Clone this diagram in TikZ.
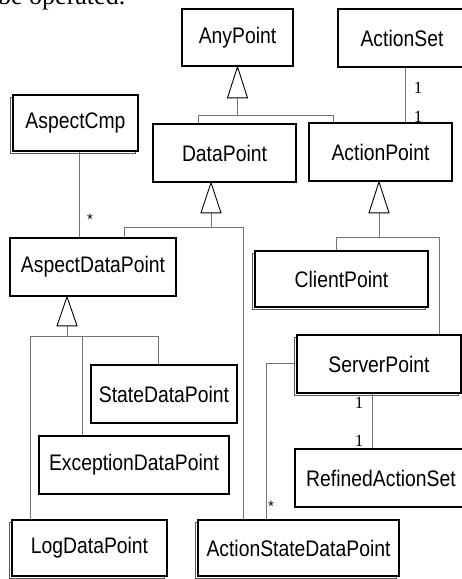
\documentclass[tikz,border=0pt]{standalone}
\usepackage{fontspec}
\newfontfamily\arialf{Liberation Sans}
\newfontfamily\timesf{Liberation Serif}
\usetikzlibrary{shadows,calc}
\newcommand\lbl[1]{\scalebox{0.86}[1]{#1}}
\tikzset{
  box/.style={draw=black, line width=1.6pt, fill=white, inner sep=0pt,
    font=\arialf\fontsize{22.5}{26}\selectfont},
  shbox/.style={box, general shadow={draw=black!65, fill=white, line width=0.7pt,
    shadow xshift=-2.5pt, shadow yshift=-2.5pt}},
  conn/.style={draw=black!55, line width=0.9pt},
  tri/.style={draw=black, line width=0.9pt, fill=white, line join=miter},
  mult/.style={font=\timesf\fontsize{17}{18}\selectfont, inner sep=0pt},
  star/.style={font=\arialf\fontsize{15}{16}\selectfont, inner sep=0pt}
}
\begin{document}
\begin{tikzpicture}[x=1pt,y=-1pt]
\useasboundingbox (0,0) rectangle (462,579);
\node[anchor=base west, font=\timesf\fontsize{26}{28}\selectfont, inner sep=0pt] (hdr) at (-2,4) {be operated.};

% boxes
\node[box, minimum width=111pt, minimum height=57pt] (any) at (237.5,37.5) {\lbl{AnyPoint}};
\node[box, minimum width=128pt, minimum height=58pt] (aset) at (402,38) {\lbl{ActionSet}};
\node[shbox, minimum width=125pt, minimum height=56pt] (acmp) at (75.5,123) {\lbl{AspectCmp}};
\node[box, minimum width=143pt, minimum height=58pt] (dp) at (224.5,153) {\lbl{DataPoint}};
\node[box, minimum width=143pt, minimum height=58pt] (ap) at (380.5,152) {\lbl{ActionPoint}};
\node[box, minimum width=166pt, minimum height=58pt] (adp) at (93,267) {\lbl{AspectDataPoint}};
\node[shbox, minimum width=173pt, minimum height=56pt] (cp) at (341.5,279) {\lbl{ClientPoint}};
\node[shbox, minimum width=164pt, minimum height=58pt] (sp) at (379,364) {\lbl{ServerPoint}};
\node[box, minimum width=146pt, minimum height=58pt] (sdp) at (164,394) {\lbl{StateDataPoint}};
\node[box, minimum width=190pt, minimum height=58pt] (edp) at (134,465) {\lbl{ExceptionDataPoint}};
\node[box, minimum width=172pt, minimum height=58pt] (ras) at (381,478) {\lbl{RefinedActionSet}};
\node[shbox, minimum width=155pt, minimum height=56pt] (ldp) at (89.5,548) {\lbl{LogDataPoint}};
\node[shbox, minimum width=201pt, minimum height=56pt] (asdp) at (298.5,548) {\lbl{ActionStateDataPoint}};

% helper coordinates
\coordinate (c1) at (405,0);
\coordinate (c2) at (79,0);
\coordinate (c3) at (266,363);
\coordinate (c4) at (372,0);

% associations
\draw[conn] (c1 |- aset.south) -- (c1 |- ap.north);
\draw[conn] (c2 |- acmp.south) -- (c2 |- adp.north);
\draw[conn] (c3 -| sp.west) ++(-2.5,0) -- (c3) -- (c3 |- asdp.north);
\draw[conn] (c4 |- sp.south) -- (c4 |- ras.north);

\node[mult] (m1) at (418,87.5) {1};
\node[mult] (m2) at (418,117) {1};
\node[star] (s1) at (90,219) {*};
\node[star] (s2) at (271,506) {*};
\node[mult] (m3) at (359,403) {1};
\node[mult] (m4) at (359,441) {1};

% generalization 1: AnyPoint <- DataPoint, ActionPoint
\coordinate (g1) at (237.5,115);
\coordinate (g1l) at (198,115);
\coordinate (g1r) at (333,115);
\draw[conn] (any.south) ++(0,31) -- (g1);
\draw[conn] (g1l |- dp.north) -- (g1l) -- (g1r) -- (g1r |- ap.north);
\draw[tri] (any.south) -- ++(-10,31) -- ++(20,0) -- cycle;

% generalization 2: DataPoint <- AspectDataPoint, ActionStateDataPoint
\coordinate (t2) at (211,0);
\coordinate (g2) at (211,227);
\coordinate (g2l) at (124,227);
\coordinate (g2r) at (243,227);
\draw[conn] (t2 |- dp.south) ++(0,30) -- (g2);
\draw[conn] (g2l |- adp.north) -- (g2l) -- (g2r) -- (g2r |- asdp.north);
\draw[tri] (t2 |- dp.south) -- ++(-10,30) -- ++(20,0) -- cycle;

% generalization 3: ActionPoint <- ClientPoint, ServerPoint
\coordinate (t3) at (379,0);
\coordinate (g3) at (379,237);
\coordinate (g3l) at (336,237);
\coordinate (g3r) at (439,237);
\draw[conn] (t3 |- ap.south) ++(0,31) -- (g3);
\draw[conn] (g3l |- cp.north) -- (g3l) -- (g3r) -- (g3r |- sp.north);
\draw[tri] (t3 |- ap.south) -- ++(-10,31) -- ++(20,0) -- cycle;

% generalization 4: AspectDataPoint <- LogDataPoint, ExceptionDataPoint, StateDataPoint
\coordinate (t4) at (67,0);
\coordinate (g4) at (67,336);
\coordinate (g4l) at (30,336);
\coordinate (g4m) at (82,336);
\coordinate (g4r) at (158,336);
\draw[conn] (t4 |- adp.south) ++(0,29) -- (g4);
\draw[conn] (g4l |- ldp.north) -- (g4l) -- (g4r) -- (g4r |- sdp.north);
\draw[conn] (g4m) -- (g4m |- edp.north);
\draw[tri] (t4 |- adp.south) -- ++(-10,29) -- ++(20,0) -- cycle;
\end{tikzpicture}
\end{document}
